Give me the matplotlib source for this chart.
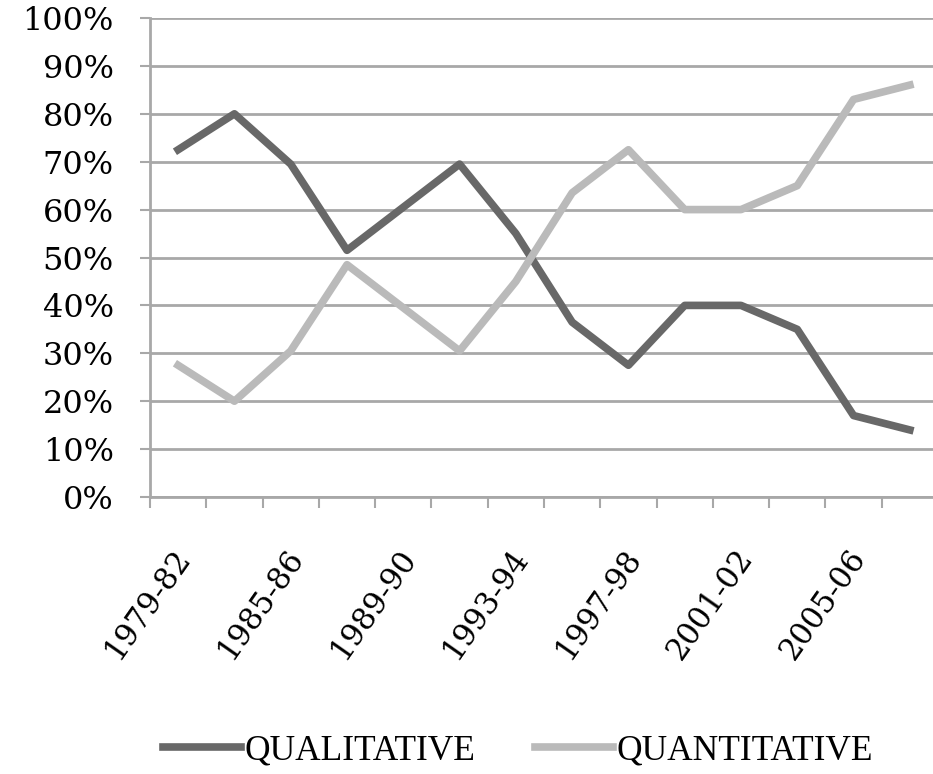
import matplotlib
matplotlib.use("Agg")
import matplotlib.pyplot as plt
from matplotlib.transforms import ScaledTranslation
from matplotlib.ticker import PercentFormatter, FixedLocator

# survey periods (labels shown on every other period)
periods = ["1979-82", "1983-84", "1985-86", "1987-88", "1989-90", "1991-92",
           "1993-94", "1995-96", "1997-98", "1999-00", "2001-02", "2003-04",
           "2005-06", "2007-08"]
qualitative = [72.5, 80, 69.5, 51.5, 60.5, 69.5, 55, 36.5, 27.5, 40, 40, 35, 17, 14]
quantitative = [27.5, 20, 30.5, 48.5, 39.5, 30.5, 45, 63.5, 72.5, 60, 60, 65, 83, 86]

dark = "#686868"
light = "#bababa"
grid_gray = "#a8a8a8"

fig = plt.figure(figsize=(9.33, 7.74), dpi=100)
ax = fig.add_axes([150 / 933, 1 - 497 / 774, 788 / 933, (497 - 18) / 774])

x = list(range(len(periods)))
ax.plot(x, qualitative, color=dark, lw=5.5, label="QUALITATIVE")
ax.plot(x, quantitative, color=light, lw=5.5, label="QUANTITATIVE")

ax.set_xlim(-0.5, len(periods) - 0.5)
ax.set_ylim(0, 100)

# y axis: 10% steps with horizontal grid
ax.set_yticks(range(0, 101, 10))
ax.yaxis.set_major_formatter(PercentFormatter(decimals=0))
ax.grid(axis="y", color=grid_gray, lw=2)
ax.set_axisbelow(True)
ax.tick_params(axis="y", length=7, width=1.5, color=grid_gray, pad=19,
               labelsize=23)
for lbl in ax.get_yticklabels():
    lbl.set_fontfamily("DejaVu Serif")

# x axis: tick marks between categories, labels on every other category
ax.xaxis.set_minor_locator(FixedLocator([i - 0.5 for i in range(len(periods) + 1)]))
ax.set_xticks(x[::2])
ax.set_xticklabels(periods[::2], rotation=55, ha="right", va="center",
                   rotation_mode="anchor", fontsize=22, fontfamily="DejaVu Serif")
ax.tick_params(axis="x", which="major", length=0, pad=40)
ax.tick_params(axis="x", which="minor", length=8, width=1.5, color=grid_gray)
shift = ScaledTranslation(6 / 100, 0, fig.dpi_scale_trans)
for lbl in ax.get_xticklabels():
    lbl.set_transform(lbl.get_transform() + shift)

for side in ("top", "right"):
    ax.spines[side].set_visible(False)
for side in ("left", "bottom"):
    ax.spines[side].set_color(grid_gray)
    ax.spines[side].set_linewidth(2)

fig.legend(loc="center", bbox_to_anchor=(518 / 933, 1 - 751 / 774), ncol=2,
           frameon=False, prop={"family": "Liberation Serif", "size": 25.5},
           handlelength=2.2, handletextpad=0.1, columnspacing=1.7)

fig.savefig("out.png", dpi=100)
